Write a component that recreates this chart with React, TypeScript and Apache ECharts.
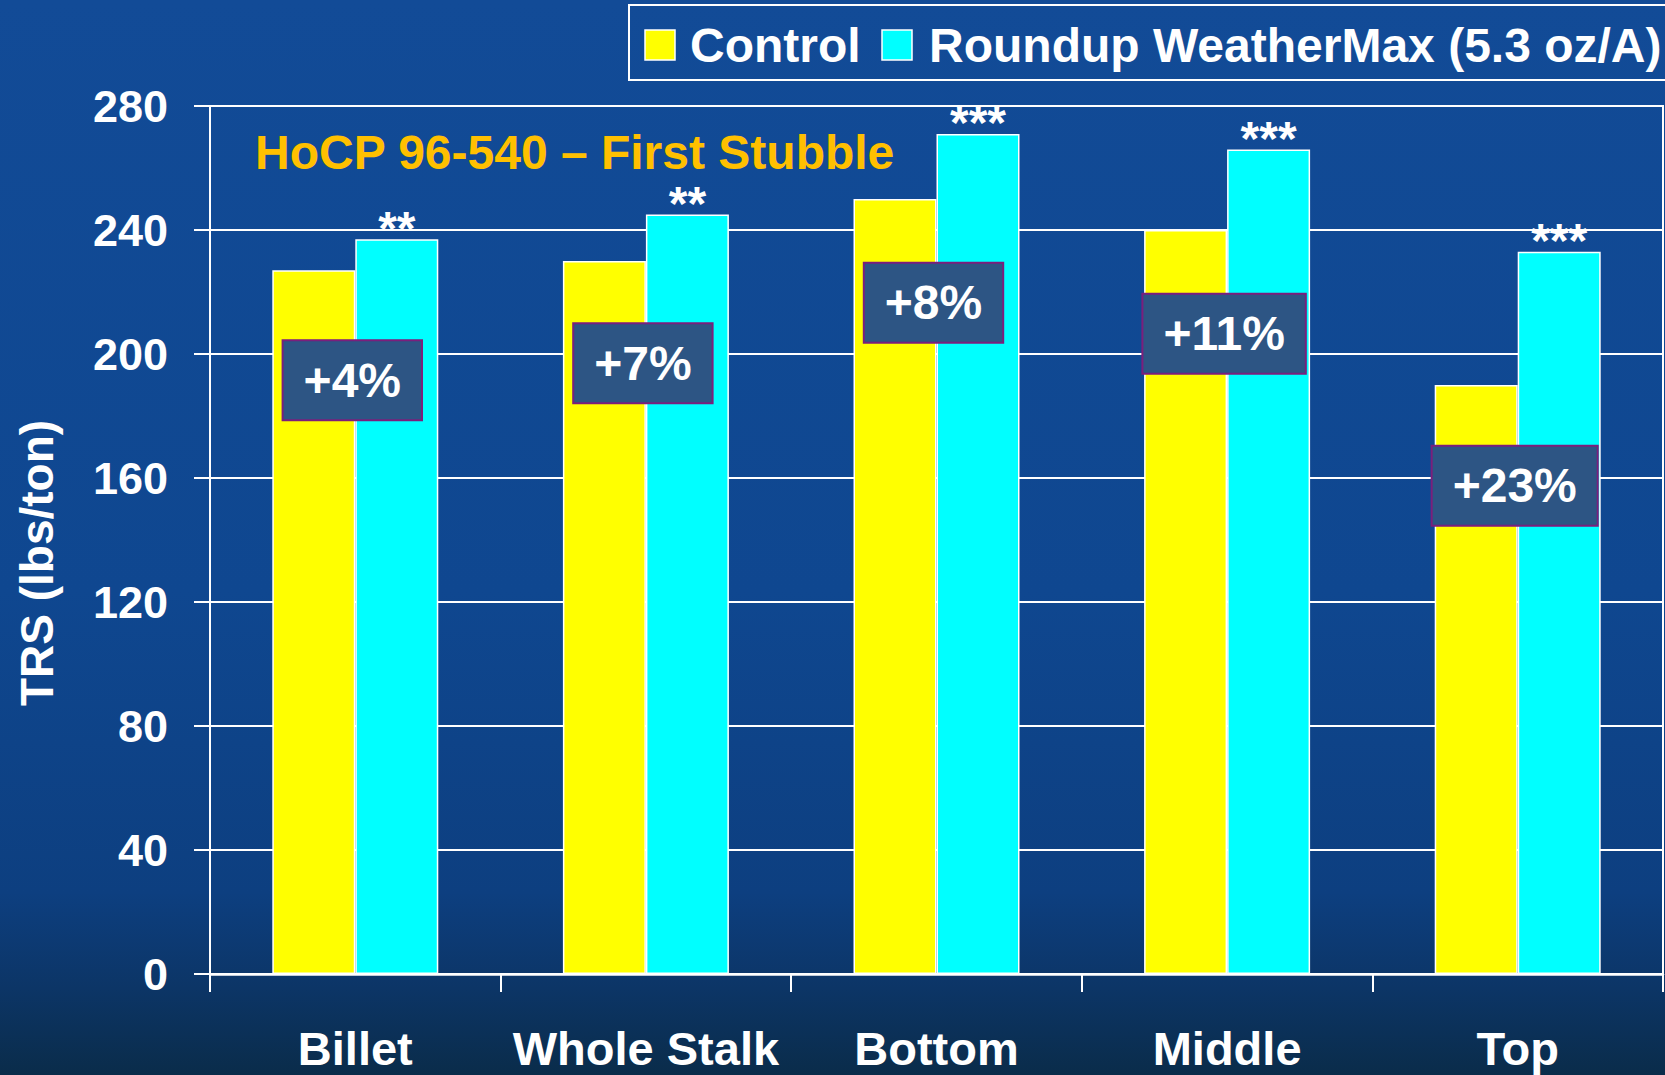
import React, { useEffect, useRef } from "react";
import * as echarts from "echarts";

const categories = ["Billet", "Whole Stalk", "Bottom", "Middle", "Top"];
const controlValues = [227, 230, 250, 240, 190];
const roundupValues = [237, 245, 271, 266, 233];
const significance = ["**", "**", "***", "***", "***"];
const percentLabels = ["+4%", "+7%", "+8%", "+11%", "+23%"];
const percentAnchor = [191.5, 197, 216.5, 206.5, 157.5];
const yTicks = [0, 40, 80, 120, 160, 200, 240, 280];

const seriesNames = ["Control", "Roundup WeatherMax (5.3 oz/A)"];
const seriesColors = ["#FFFF00", "#00FFFF"];
const FONT = "'Liberation Sans', Arial, sans-serif";

export default function App() {
  const ref = useRef<HTMLDivElement>(null);
  useEffect(() => {
    if (!ref.current) return;
    const chart = echarts.init(ref.current, null, { renderer: "svg" });
    const shadow = {
      textShadowColor: "#000",
      textShadowOffsetX: 2,
      textShadowOffsetY: 2,
      textShadowBlur: 0,
    };
    const legendText = (text: string, x: number) => ({
      type: "text",
      x,
      y: 45,
      silent: true,
      style: {
        text,
        fontFamily: FONT,
        fontSize: 48,
        fontWeight: "bold",
        fill: "#ffffff",
        textAlign: "left",
        textVerticalAlign: "middle",
      },
    });
    const legendSwatch = (color: string, x: number) => ({
      type: "rect",
      silent: true,
      shape: { x, y: 30, width: 30, height: 30 },
      style: { fill: color, stroke: "#ffffff", lineWidth: 1.5 },
    });
    chart.setOption({
      animation: false,
      backgroundColor: new echarts.graphic.LinearGradient(0, 0, 0, 1, [
        { offset: 0, color: "#124b97" },
        { offset: 0.55, color: "#0f4790" },
        { offset: 0.83, color: "#0d3f80" },
        { offset: 0.92, color: "#0c3566" },
        { offset: 1, color: "#0a2c4a" },
      ]),
      textStyle: { fontFamily: FONT },
      title: {
        text: "HoCP 96-540 \u2013 First Stubble",
        left: 255,
        top: 128,
        padding: 0,
        textStyle: {
          fontFamily: FONT,
          fontSize: 48,
          fontWeight: "bold",
          color: "#FFC000",
          ...shadow,
        },
      },
      grid: {
        left: 210,
        right: 2,
        top: 106,
        bottom: 101,
        show: true,
        borderColor: "#ffffff",
        borderWidth: 2,
        backgroundColor: "transparent",
      },
      xAxis: {
        type: "category",
        data: categories,
        axisLine: { show: true, lineStyle: { color: "#ffffff", width: 2.5 } },
        axisTick: {
          show: true,
          interval: 0,
          alignWithLabel: false,
          length: 18,
          lineStyle: { color: "#ffffff", width: 2 },
        },
        axisLabel: {
          interval: 0,
          color: "#ffffff",
          fontFamily: FONT,
          fontSize: 47,
          fontWeight: "bold",
          margin: 51,
        },
      },
      yAxis: {
        type: "value",
        min: yTicks[0],
        max: yTicks[yTicks.length - 1],
        interval: 40,
        axisLine: { show: true, lineStyle: { color: "#ffffff", width: 2 } },
        axisTick: {
          show: true,
          inside: false,
          length: 16,
          lineStyle: { color: "#ffffff", width: 2 },
        },
        splitLine: { show: true, lineStyle: { color: "#ffffff", width: 2 } },
        axisLabel: {
          color: "#ffffff",
          fontFamily: FONT,
          fontSize: 45,
          fontWeight: "bold",
          margin: 42,
        },
      },
      graphic: [
        {
          type: "text",
          x: 37,
          y: 563,
          rotation: Math.PI / 2,
          silent: true,
          style: {
            text: "TRS (lbs/ton)",
            fontFamily: FONT,
            fontSize: 46,
            fontWeight: "bold",
            fill: "#ffffff",
            textAlign: "center",
            textVerticalAlign: "middle",
          },
        },
        {
          type: "rect",
          silent: true,
          shape: { x: 629, y: 5, width: 1060, height: 75 },
          style: { fill: "none", stroke: "#ffffff", lineWidth: 2 },
        },
        legendSwatch(seriesColors[0], 645),
        legendText(seriesNames[0], 690),
        legendSwatch(seriesColors[1], 882),
        legendText(seriesNames[1], 929),
      ],
      series: [
        {
          name: seriesNames[0],
          type: "bar",
          data: controlValues,
          barWidth: 83,
          barGap: "0%",
          silent: true,
          itemStyle: { color: seriesColors[0], borderColor: "#ffffff", borderWidth: 1.5 },
        },
        {
          name: seriesNames[1],
          type: "bar",
          data: roundupValues,
          barWidth: 83,
          barGap: "0%",
          silent: true,
          itemStyle: { color: seriesColors[1], borderColor: "#ffffff", borderWidth: 1.5 },
          label: {
            show: true,
            position: "top",
            distance: -13,
            formatter: (p: any) => significance[p.dataIndex],
            color: "#ffffff",
            fontFamily: FONT,
            fontSize: 48,
            fontWeight: "bold",
            ...shadow,
          },
        },
        {
          name: "pct",
          type: "scatter",
          silent: true,
          z: 10,
          symbolSize: 1,
          itemStyle: { color: "transparent", opacity: 1 },
          emphasis: { disabled: true },
          data: categories.map((c, i) => [i, percentAnchor[i]]),
          label: {
            show: true,
            position: "inside",
            offset: [-3, 0],
            opacity: 1,
            formatter: (p: any) => percentLabels[p.dataIndex],
            color: "#ffffff",
            fontFamily: FONT,
            fontSize: 48,
            fontWeight: "bold",
            backgroundColor: "#2d5584",
            borderColor: "#7b1f7c",
            borderWidth: 2,
            padding: [15, 20, 15, 20],
            ...shadow,
          },
        },
      ],
    });
    return () => chart.dispose();
  }, []);
  return (
    <div
      ref={ref}
      style={{ position: "fixed", left: 0, top: 0, width: 1665, height: 1075 }}
    />
  );
}
